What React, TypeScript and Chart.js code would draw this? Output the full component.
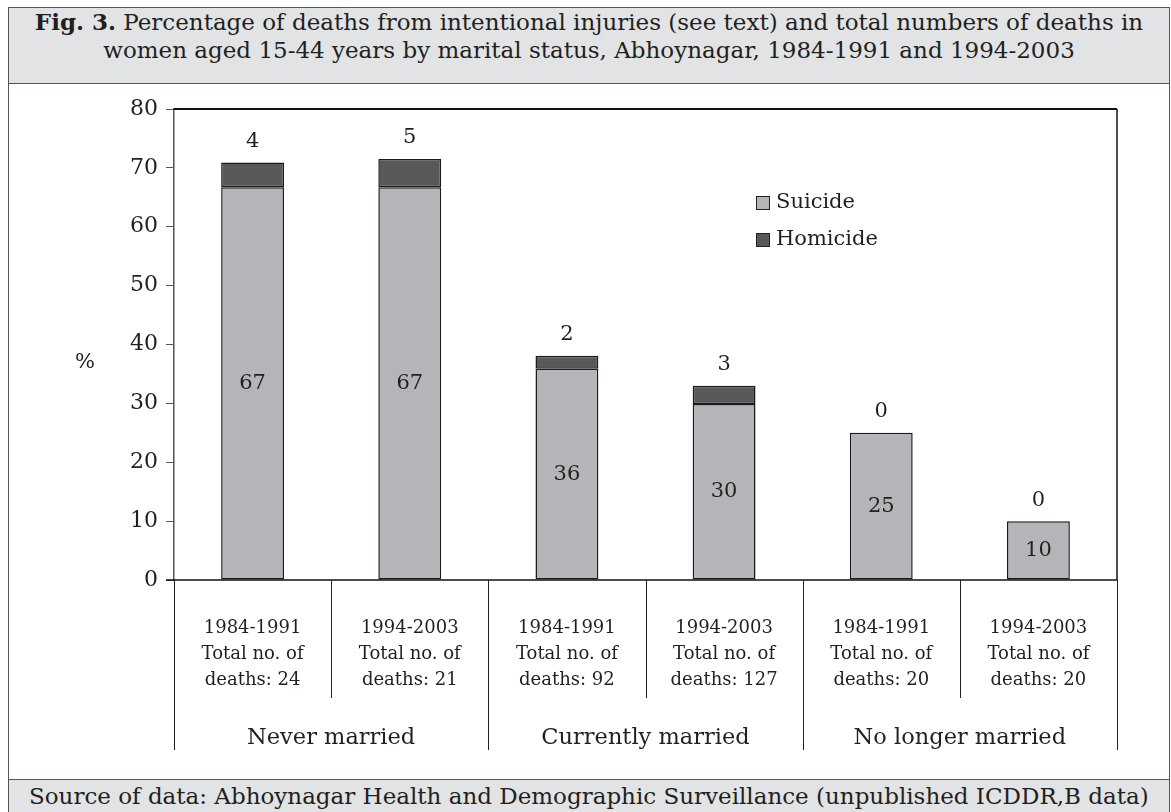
import React, { useEffect, useRef } from "react";
import { Chart, registerables } from "chart.js";

Chart.register(...registerables);

const FONT = "'DejaVu Serif', serif";
const TEXT = "#231f20";

const periods = ["1984-1991", "1994-2003", "1984-1991", "1994-2003", "1984-1991", "1994-2003"];
const totalDeaths = [24, 21, 92, 127, 20, 20];
const groups = ["Never married", "Currently married", "No longer married"];
const suicide = [66.7, 66.7, 35.9, 29.9, 25, 10];
const homicide = [4.2, 4.8, 2.2, 3.1, 0, 0];
const yTicks = [0, 10, 20, 30, 40, 50, 60, 70, 80];

const categoryLabels = periods.map((p, i) => [p, "Total no. of", `deaths: ${totalDeaths[i]}`]);

const overlayPlugin = {
  id: "overlay",
  afterDatasetsDraw(chart: any) {
    const { ctx, chartArea, scales } = chart;
    const { left, right, top, bottom } = chartArea;
    const xs = scales.x;
    ctx.save();

    // frame
    ctx.strokeStyle = "#111";
    ctx.lineWidth = 2;
    ctx.beginPath();
    ctx.moveTo(left, top);
    ctx.lineTo(right, top);
    ctx.stroke();
    ctx.lineWidth = 1.5;
    ctx.beginPath();
    ctx.moveTo(right, top);
    ctx.lineTo(right, bottom);
    ctx.stroke();
    ctx.beginPath();
    ctx.moveTo(left - 8, bottom);
    ctx.lineTo(right, bottom);
    ctx.stroke();

    // data labels
    const metaS = chart.getDatasetMeta(0);
    const metaH = chart.getDatasetMeta(1);
    ctx.fillStyle = TEXT;
    ctx.textAlign = "center";
    ctx.textBaseline = "middle";
    ctx.font = `21px ${FONT}`;
    metaS.data.forEach((bar: any, i: number) => {
      const mid = (bar.y + bar.base) / 2;
      ctx.fillText(String(Math.round(suicide[i])), bar.x, mid);
      const hb = metaH.data[i];
      const topY = Math.min(hb.y, bar.y);
      ctx.fillText(String(Math.round(homicide[i])), bar.x, topY - 21);
    });

    // % label
    ctx.font = `21px ${FONT}`;
    ctx.fillText("%", left - 89, scales.y.getPixelForValue(37));

    // legend
    const items = chart.data.datasets;
    ctx.textAlign = "left";
    items.forEach((ds: any, k: number) => {
      const sx = left + 582;
      const sy = top + 87 + k * 37;
      ctx.fillStyle = ds.backgroundColor;
      ctx.fillRect(sx, sy, 14, 14);
      ctx.strokeStyle = "#222";
      ctx.lineWidth = 1;
      ctx.strokeRect(sx + 0.5, sy + 0.5, 13, 13);
      ctx.fillStyle = TEXT;
      ctx.font = `21px ${FONT}`;
      ctx.fillText(ds.label, sx + 20, sy + 7);
    });

    // category dividers and labels
    const n = periods.length;
    const step = (right - left) / n;
    ctx.strokeStyle = "#222";
    ctx.lineWidth = 1;
    for (let i = 0; i <= n; i++) {
      const x = Math.round(left + i * step) + 0.5;
      const len = i % 2 === 0 ? 170 : 118;
      ctx.beginPath();
      ctx.moveTo(x, bottom);
      ctx.lineTo(x, bottom + len);
      ctx.stroke();
    }
    ctx.fillStyle = TEXT;
    ctx.textAlign = "center";
    ctx.font = `18px ${FONT}`;
    categoryLabels.forEach((lines, i) => {
      const cx = xs.getPixelForValue(i);
      lines.forEach((t, j) => ctx.fillText(t, cx, bottom + 48 + j * 26));
    });
    ctx.font = `22.5px ${FONT}`;
    groups.forEach((g, k) => {
      const cx = (xs.getPixelForValue(2 * k) + xs.getPixelForValue(2 * k + 1)) / 2;
      ctx.fillText(g, cx, bottom + 158);
    });
    ctx.restore();
  },
};

function ChartView() {
  const ref = useRef<HTMLCanvasElement>(null);
  useEffect(() => {
    if (!ref.current) return;
    const chart = new Chart(ref.current, {
      type: "bar",
      data: {
        labels: periods.map((p, i) => `${groups[Math.floor(i / 2)]} ${p}`),
        datasets: [
          {
            label: "Suicide",
            data: suicide,
            backgroundColor: "#b4b5b8",
            borderColor: "#1a1a1a",
            borderWidth: 1.5,
            borderSkipped: false,
            categoryPercentage: 1,
            barPercentage: 0.4,
          },
          {
            label: "Homicide",
            data: homicide,
            backgroundColor: "#58595b",
            borderColor: "#1a1a1a",
            borderWidth: (c: any) => (homicide[c.dataIndex] > 0 ? 1.5 : 0),
            borderSkipped: false,
            categoryPercentage: 1,
            barPercentage: 0.4,
          },
        ],
      },
      options: {
        animation: false,
        responsive: false,
        maintainAspectRatio: false,
        layout: { padding: { top: 25, right: 52, bottom: 199, left: 0 } },
        plugins: { legend: { display: false }, tooltip: { enabled: false }, title: { display: false } },
        scales: {
          x: { stacked: true, display: false },
          y: {
            stacked: true,
            min: 0,
            max: 80,
            afterFit: (axis: any) => {
              axis.width = 165;
            },
            afterBuildTicks: (axis: any) => {
              axis.ticks = yTicks.map((v) => ({ value: v }));
            },
            ticks: { color: TEXT, font: { family: FONT, size: 22 }, padding: 8 },
            grid: { drawOnChartArea: false, drawTicks: true, tickLength: 8, color: "#555", lineWidth: 1 },
            border: { display: true, color: "#555", width: 1.5 },
          },
        },
      },
      plugins: [overlayPlugin],
    });
    return () => chart.destroy();
  }, []);
  return <canvas ref={ref} width={1160} height={695} style={{ display: "block", width: 1160, height: 695 }} />;
}

export default function App() {
  return (
    <div
      style={{
        position: "absolute",
        left: 8,
        top: 7,
        width: 1162,
        boxSizing: "border-box",
        border: "1px solid #555",
        fontFamily: FONT,
        color: TEXT,
        background: "#fff",
      }}
    >
      <div
        style={{
          height: 76,
          boxSizing: "border-box",
          background: "#e2e3e4",
          borderBottom: "1px solid #555",
          textAlign: "center",
          fontSize: 23,
          lineHeight: "28px",
          paddingTop: 0,
          whiteSpace: "nowrap",
        }}
      >
        <b>Fig. 3.</b> Percentage of deaths from intentional injuries (see text) and total numbers of deaths in
        <br />
        women aged 15-44 years by marital status, Abhoynagar, 1984-1991 and 1994-2003
      </div>
      <ChartView />
      <div
        style={{
          height: 40,
          boxSizing: "border-box",
          background: "#e2e3e4",
          borderTop: "1px solid #555",
          fontSize: 23,
          lineHeight: "32px",
          paddingLeft: 20,
          whiteSpace: "nowrap",
        }}
      >
        Source of data: Abhoynagar Health and Demographic Surveillance (unpublished ICDDR,B data)
      </div>
    </div>
  );
}
